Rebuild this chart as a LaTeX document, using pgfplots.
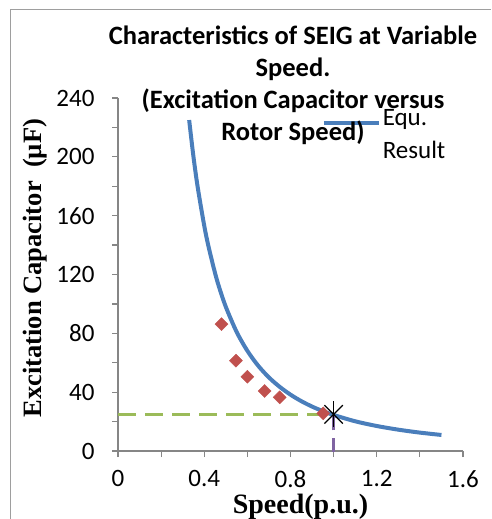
\documentclass[border=0pt]{standalone}
\usepackage{pgfplots}
\pgfplotsset{compat=1.18}
\usepackage{fontspec}
\setmainfont{Carlito}
\newfontfamily\tnr{Liberation Serif}
\definecolor{cblue}{HTML}{4A7EBB}
\definecolor{cred}{HTML}{C0504D}
\definecolor{cgreen}{HTML}{9BBB59}
\definecolor{cpurple}{HTML}{8064A2}
\definecolor{cgray}{HTML}{868686}
\begin{document}
\begin{tikzpicture}[x=1pt,y=1pt]
\useasboundingbox (0,0) rectangle (491,519);
\draw[cgray!80, line width=1pt] (10,0) -- (10,509) -- (491,509);
\begin{axis}[
  at={(118pt,68pt)}, anchor=south west,
  scale only axis, width=345pt, height=353pt,
  xmin=0, xmax=1.6, ymin=0, ymax=240,
  axis lines*=left,
  axis line style={cgray, line width=1.2pt},
  xtick={0,0.4,0.8,1.2,1.6}, minor xtick={0.2,0.6,1.0,1.4},
  ytick={0,40,80,120,160,200,240}, minor ytick={20,60,100,140,180,220},
  xticklabels={0,0.4,0.8,1.2,1.6},
  tick align=outside, major tick length=6pt, minor tick length=6pt,
  every tick/.style={cgray, line width=1.2pt},
  /pgf/number format/assume math mode=true,
  tick label style={font=\fontsize{25}{30}\selectfont, black},
  y tick label style={xshift=-14pt},
  x tick label style={yshift=-10pt},
  xlabel={Speed(p.u.)},
  ylabel={Excitation Capacitor\ \ (µF)},
  xlabel style={font=\tnr\bfseries\fontsize{28}{32}\selectfont, at={(rel axis cs:0.529,-0.177)}, anchor=base, inner sep=0pt},
  ylabel style={font=\tnr\bfseries\fontsize{26.5}{32}\selectfont, at={(rel axis cs:-0.240,0.518)}, anchor=center, inner sep=0pt, rotate=0},
  legend style={draw=none, fill=none, at={(rel axis cs:0.59,0.975)}, anchor=north west, inner sep=0pt,
    nodes={inner sep=2pt, align=left, font=\fontsize{25}{33}\selectfont}},
  legend cell align=left,
  legend image code/.code={\draw[#1] (0pt,11pt) -- (55pt,11pt);},
]
\addplot[cblue, line width=4pt, smooth, no marks] coordinates {
  (0.33,225.0) (0.35,200.0) (0.37,179.0) (0.40,153.1) (0.42,138.9) (0.45,121.0)
  (0.47,110.9) (0.50,98.0) (0.55,81.0) (0.60,68.1) (0.65,58.0) (0.70,50.0)
  (0.75,43.6) (0.80,38.3) (0.85,33.9) (0.90,30.2) (0.95,27.1) (1.00,24.5)
  (1.10,20.2) (1.20,17.0) (1.30,14.5) (1.40,12.5) (1.50,10.9)
};
\addlegendentry{Equ.\\Result}
\addplot[cgreen, line width=3.5pt, dash pattern=on 18pt off 9pt, forget plot] coordinates {(0,24.9) (0.93,24.9)};
\addplot[only marks, mark=square*, mark size=4.6pt, mark options={rotate=45, fill=cred, draw=cred}, forget plot] coordinates {
  (0.48,86.3) (0.547,61.4) (0.60,50.5) (0.68,40.8) (0.75,36.5) (0.952,25.6)
};
\addplot[cpurple, line width=3pt, dash pattern=on 14pt off 8pt, forget plot] coordinates {(1,-1) (1,24.9)};
\addplot[only marks, mark=x, mark size=13pt, black, line width=1.3pt, forget plot] coordinates {(1,24.9)};
\addplot[only marks, mark=|, mark size=13pt, black, line width=1.3pt, forget plot] coordinates {(1,24.9)};
\end{axis}
\node[align=center, anchor=north, inner sep=0pt, font=\bfseries\fontsize{26.5}{32}\selectfont] at (293,493.5)
  {Characteristics of SEIG at Variable\\Speed.\\(Excitation Capacitor versus\\Rotor Speed)};
\end{tikzpicture}
\end{document}
